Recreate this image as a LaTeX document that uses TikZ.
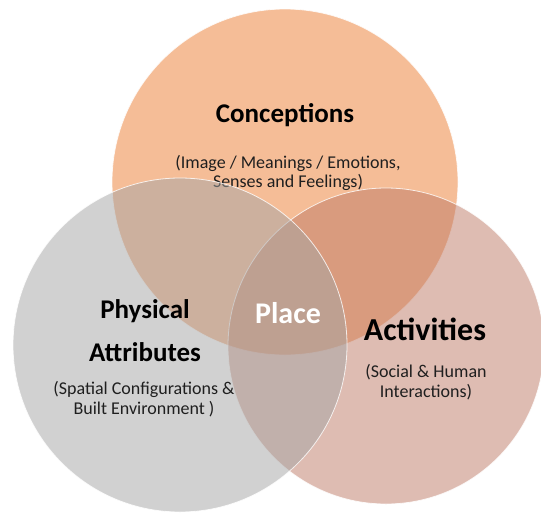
\documentclass[tikz,border=0pt]{standalone}
\usepackage{fontspec}
\setmainfont{Carlito}
\definecolor{orangeC}{HTML}{ED7D31}
\definecolor{grayC}{HTML}{A5A5A5}
\definecolor{roseC}{HTML}{BF7B67}
\begin{document}
\begin{tikzpicture}[x=1pt,y=-1pt,
  venn/.style={circle, inner sep=0pt, fill opacity=0.5, draw=white, draw opacity=0.8, line width=0.8pt},
  head/.style={font=\bfseries\fontsize{27}{30}\selectfont, text=black, align=center},
  sub/.style={font=\fontsize{18}{19.5}\selectfont, text=black!88, align=center}]
\useasboundingbox (0,0) rectangle (541,512);
\clip (0,0) rectangle (541,512);
\fill[white] (0,0) rectangle (541,512);
\node[venn, fill=orangeC, minimum size=346pt] (conc) at (285,182) {};
\node[head] (tconc) at (285,115) {Conceptions};
\node[sub] (sconc) at (288,173) {(Image / Meanings / Emotions,\\Senses and Feelings)};
\node[venn, fill=roseC, minimum size=316pt] (act) at (386,346) {};
\node[venn, fill=grayC, minimum size=334pt] (phys) at (180,345) {};
\node[head, font=\bfseries\fontsize{27}{43}\selectfont] (tphys) at (145,331) {Physical\\Attributes};
\node[sub] (sphys) at (144,399) {(Spatial Configurations \&\\Built Environment )};
\node[head, font=\bfseries\fontsize{32}{35}\selectfont] (tact) at (425,329) {Activities};
\node[sub] (sact) at (426,382) {(Social \& Human\\Interactions)};
\node[head, font=\bfseries\fontsize{30}{33}\selectfont, text=white] (place) at (288,313) {Place};
\end{tikzpicture}
\end{document}
